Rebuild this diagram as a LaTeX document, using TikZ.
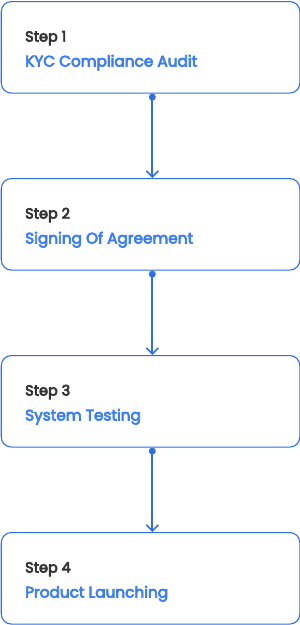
\documentclass[tikz,border=0pt]{standalone}
\usepackage{fontspec}
\setmainfont{Poppins}[BoldFont=Poppins, BoldFeatures={FakeBold=4.5}]
\usetikzlibrary{arrows.meta}
\definecolor{bordblue}{HTML}{2F6FE6}
\definecolor{txtblue}{HTML}{3D7FF0}
\definecolor{txtdark}{HTML}{333333}
\tikzset{
  stepbox/.style={draw=bordblue, line width=1.1pt, rounded corners=10pt, fill=white,
    minimum width=298.5pt, minimum height=91.5pt, inner sep=0pt, anchor=north west},
  steplabel/.style={anchor=base west, inner sep=0pt, text=txtdark, font=\fontsize{14.5}{17}\selectfont\bfseries},
  steptitle/.style={anchor=base west, inner sep=0pt, text=txtblue, font=\fontsize{15.3}{18}\selectfont\bfseries},
  conn/.style={draw=bordblue, line width=1.8pt, -{Straight Barb[length=6pt,width=12pt,line width=1.6pt]}},
  dotc/.style={circle, fill=bordblue, inner sep=0pt, minimum size=7pt}
}
\begin{document}
\begin{tikzpicture}[x=1pt,y=1pt]
\useasboundingbox (0,0) rectangle (300,-625);
\foreach \i/\t [count=\k] in {0/KYC Compliance Audit,1/Signing Of Agreement,2/System Testing,3/Product Launching}{
  \node[stepbox] (b\k) at (0.75,{-1-177*\i}) {};
  \node[steplabel] (s\k) at (25,{-41.5-177*\i}) {Step \k};
  \node[steptitle] (t\k) at (25,{-66.5-177*\i}) {\t};
}
\foreach \a/\b in {1/2,2/3,3/4}{
  \node[dotc] (d\a) at ([xshift=1.75pt,yshift=-3.5pt]b\a.south) {};
  \draw[conn] (d\a.center) -- ([xshift=1.75pt]b\b.north);
}
\end{tikzpicture}
\end{document}
